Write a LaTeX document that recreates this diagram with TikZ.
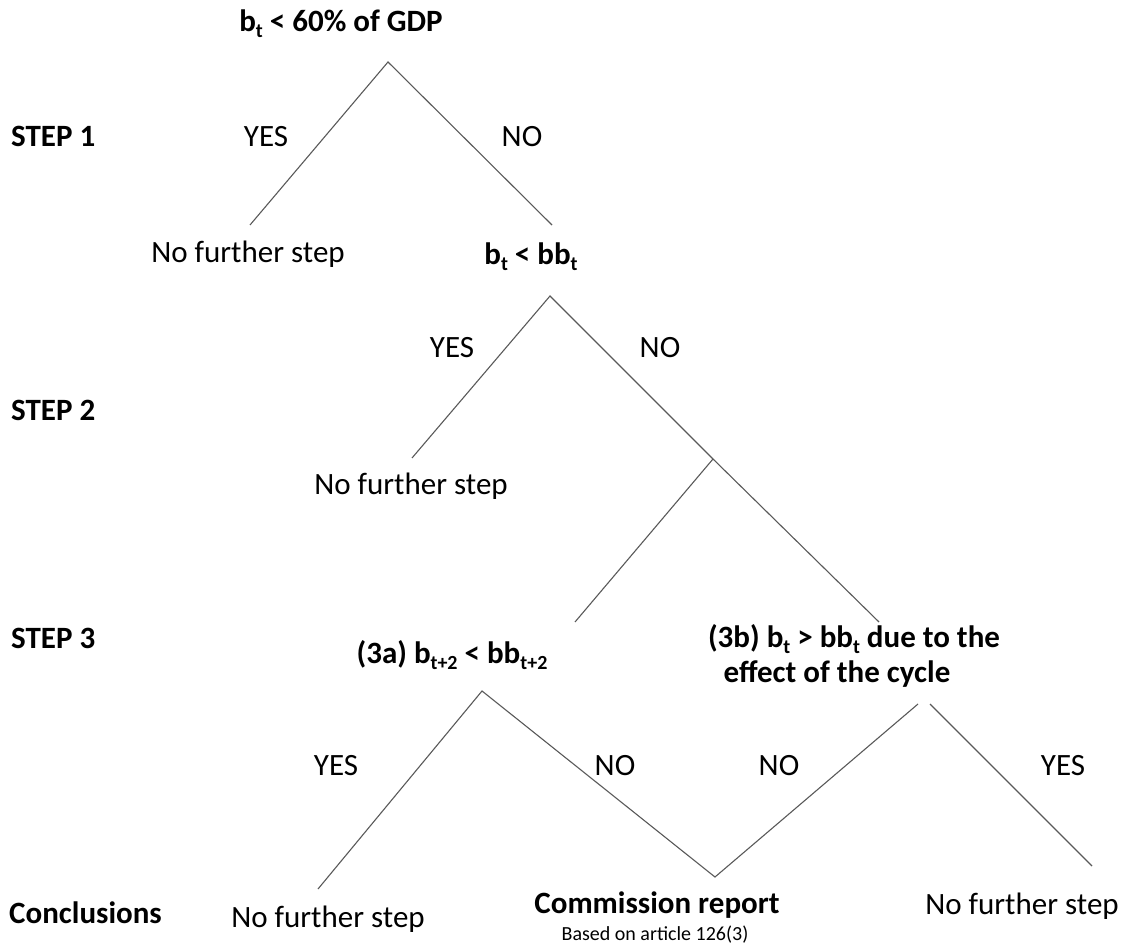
\documentclass[tikz,border=0pt]{standalone}
\usepackage{fontspec}
\setmainfont{Carlito}
\newcommand\sbx[1]{\raisebox{-6pt}{\fontsize{20}{20}\selectfont #1}}
\begin{document}
\begin{tikzpicture}[x=1pt,y=-1pt,
  lbl/.style={anchor=base,inner sep=0pt,font=\fontsize{31}{32}\selectfont},
  cond/.style={anchor=base,inner sep=0pt,font=\fontsize{31}{32}\selectfont\bfseries},
  steplbl/.style={anchor=base west,inner sep=0pt,font=\fontsize{31}{32}\selectfont\bfseries},
  small/.style={anchor=base,inner sep=0pt,font=\fontsize{20}{22}\selectfont},
  branch/.style={draw=black!65,line width=1.1pt}]
\useasboundingbox (0,0) rectangle (1121,949);
% texts
\node[cond] (title) at (341,32) {b\sbx{t} < 60\% of GDP};
\node[steplbl] (step1) at (11,147) {STEP 1};
\node[lbl] (yes1) at (266,147) {YES};
\node[lbl] (no1) at (522,147) {NO};
\node[lbl] (nfs1) at (248,263) {No further step};
\node[cond] (c2) at (531,265) {b\sbx{t} < bb\sbx{t}};
\node[steplbl] (step2) at (11,420) {STEP 2};
\node[lbl] (yes2) at (452,357) {YES};
\node[lbl] (no2) at (660,357) {NO};
\node[lbl] (nfs2) at (411,494) {No further step};
\node[steplbl] (step3) at (11,648) {STEP 3};
\node[cond] (c3a) at (452,663) {(3a) b\sbx{t+2} < bb\sbx{t+2}};
\node[cond,font=\fontsize{31}{35}\selectfont\bfseries] (c3b) at (854,647) {\begin{tabular}[t]{@{}c@{}}(3b) b\sbx{t} > bb\sbx{t} due to the\\ effect of the cycle\hspace*{34pt}\end{tabular}};
\node[lbl] (yes3a) at (336,775) {YES};
\node[lbl] (no3a) at (615,775) {NO};
\node[lbl] (no3b) at (779,775) {NO};
\node[lbl] (yes3b) at (1063,775) {YES};
\node[steplbl] (concl) at (9,923) {Conclusions};
\node[lbl] (nfs3) at (328,927) {No further step};
\node[cond] (comm) at (657,913) {Commission report};
\node[small] (based) at (655,940) {Based on article 126(3)};
\node[lbl] (nfs4) at (1022,914) {No further step};
% branch points
\coordinate (a1) at (388,62);
\coordinate (e1l) at (250,225);
\coordinate (e1r) at (552,225);
\coordinate (a2) at (550,296);
\coordinate (e2l) at (412,458);
\coordinate (j2) at (713,459);
\coordinate (e2r) at (879,622);
\coordinate (e2m) at (575,622);
\coordinate (a3) at (482,691);
\coordinate (e3l) at (318,889);
\coordinate (v3) at (715,877);
\coordinate (a3bl) at (918,704);
\coordinate (a3br) at (930,704);
\coordinate (e3r) at (1092,866);
% branches
\draw[branch] (e1l) -- (a1) -- (e1r);
\draw[branch] (e2l) -- (a2) -- (j2) -- (e2r);
\draw[branch] (j2) -- (e2m);
\draw[branch] (e3l) -- (a3) -- (v3) -- (a3bl);
\draw[branch] (a3br) -- (e3r);
\end{tikzpicture}
\end{document}
